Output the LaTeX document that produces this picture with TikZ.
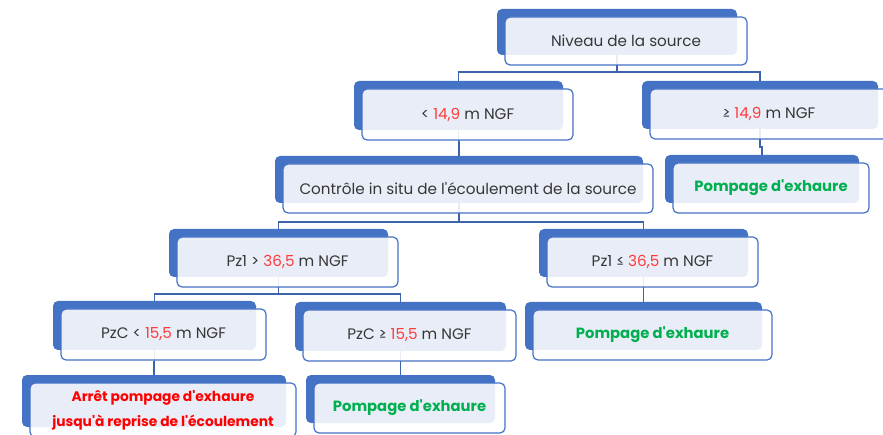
\documentclass[tikz,border=0pt]{standalone}
\usepackage{fontspec}
\setmainfont{Poppins}[Ligatures=TeXOff]
\usetikzlibrary{backgrounds}
\definecolor{bblue}{HTML}{4472C4}
\definecolor{cline}{HTML}{3B64AD}
\definecolor{tgray}{HTML}{363636}
\definecolor{tred}{HTML}{FF3B3B}
\definecolor{bred}{HTML}{FF0000}
\definecolor{bgreen}{HTML}{00B050}
\newcommand\rn[1]{\textcolor{tred}{#1}}
\newcommand\okt[1]{{\fontsize{14.8}{17}\selectfont\bfseries\textcolor{bgreen}{#1}}}
\newcommand\stopt[1]{{\fontsize{13.8}{17}\selectfont\bfseries\textcolor{bred}{#1}}}
% name, x1, y1, x2, y2 (front box), text
\newcommand\tbox[6]{%
  \node[backbox, minimum width={(#4-#2-2)*1pt}, minimum height={(#5-#3-2)*1pt}]
    (#1b) at ({(#2+#4)/2-9},{(#3+#5)/2-9}) {};
  \node[frontbox, minimum width={(#4-#2)*1pt}, minimum height={(#5-#3)*1pt}]
    (#1) at ({(#2+#4)/2},{(#3+#5)/2}) {#6};
}
\begin{document}
\begin{tikzpicture}[x=1pt,y=-1pt,
  backbox/.style={fill=bblue, rounded corners=5pt, inner sep=0pt, outer sep=0pt},
  frontbox/.style={fill=white, fill opacity=0.88, text opacity=1, draw=bblue,
    line width=1.2pt, rounded corners=5pt, inner sep=0pt, outer sep=0pt,
    text=tgray, font=\fontsize{15.2}{18}\selectfont, align=center},
  conn/.style={draw=cline, line width=1.3pt}]
\clip (0,0) rectangle (883,435);
\tbox{top}{505}{17}{747}{65}{Niveau de la source}
\tbox{lt}{362}{89}{573}{140}{< \rn{14,9} m NGF}
\tbox{ge}{650}{89}{888}{139}{≥ \rn{14,9} m NGF}
\tbox{ctl}{283}{164}{653}{213}{Contrôle in situ de l'écoulement de la source}
\tbox{ptr}{673}{163}{869}{213}{\okt{Pompage d'exhaure}}
\tbox{pzg}{177}{237}{398}{287}{Pz1 > \rn{36,5} m NGF}
\tbox{pzl}{547}{237}{758}{287}{Pz1 ≤ \rn{36,5} m NGF}
\tbox{pcl}{61}{309}{266}{360}{PzC < \rn{15,5} m NGF}
\tbox{pcg}{303}{310}{516}{361}{PzC ≥ \rn{15,5} m NGF}
\tbox{pmid}{533}{310}{772}{360}{\okt{Pompage d'exhaure}}
\tbox{stop}{30}{383}{296}{437}{\stopt{Arrêt pompage d'exhaure}\\[7pt]\stopt{jusqu'à reprise de l'écoulement}}
\tbox{pbot}{314}{383}{505}{433}{\okt{Pompage d'exhaure}}
\begin{scope}[on background layer]
  \draw[conn] (topb.south) -- ++(0,17) -| (ltb.north);
  \draw[conn] (topb.south) -- ++(0,17) -| (geb.north);
  \draw[conn] (ltb.south) -- ++(0,12) -| (ctlb.north);
  \draw[conn] (geb.south) -- ++(0,18) -| (ptrb.north);
  \draw[conn] (ctlb.south) -- ++(0,19) -| (pzgb.north);
  \draw[conn] (ctlb.south) -- ++(0,19) -| (pzlb.north);
  \draw[conn] (pzlb.south) -- ++(0,12) -| (pmidb.north);
  \draw[conn] (pzgb.south) -- ++(0,17) -| (pclb.north);
  \draw[conn] (pzgb.south) -- ++(0,17) -| (pcgb.north);
  \draw[conn] (pclb.south) -- ++(0,12) -| (stopb.north);
  \draw[conn] (pcgb.south) -- ++(0,12) -| (pbotb.north);
\end{scope}
\end{tikzpicture}
\end{document}
